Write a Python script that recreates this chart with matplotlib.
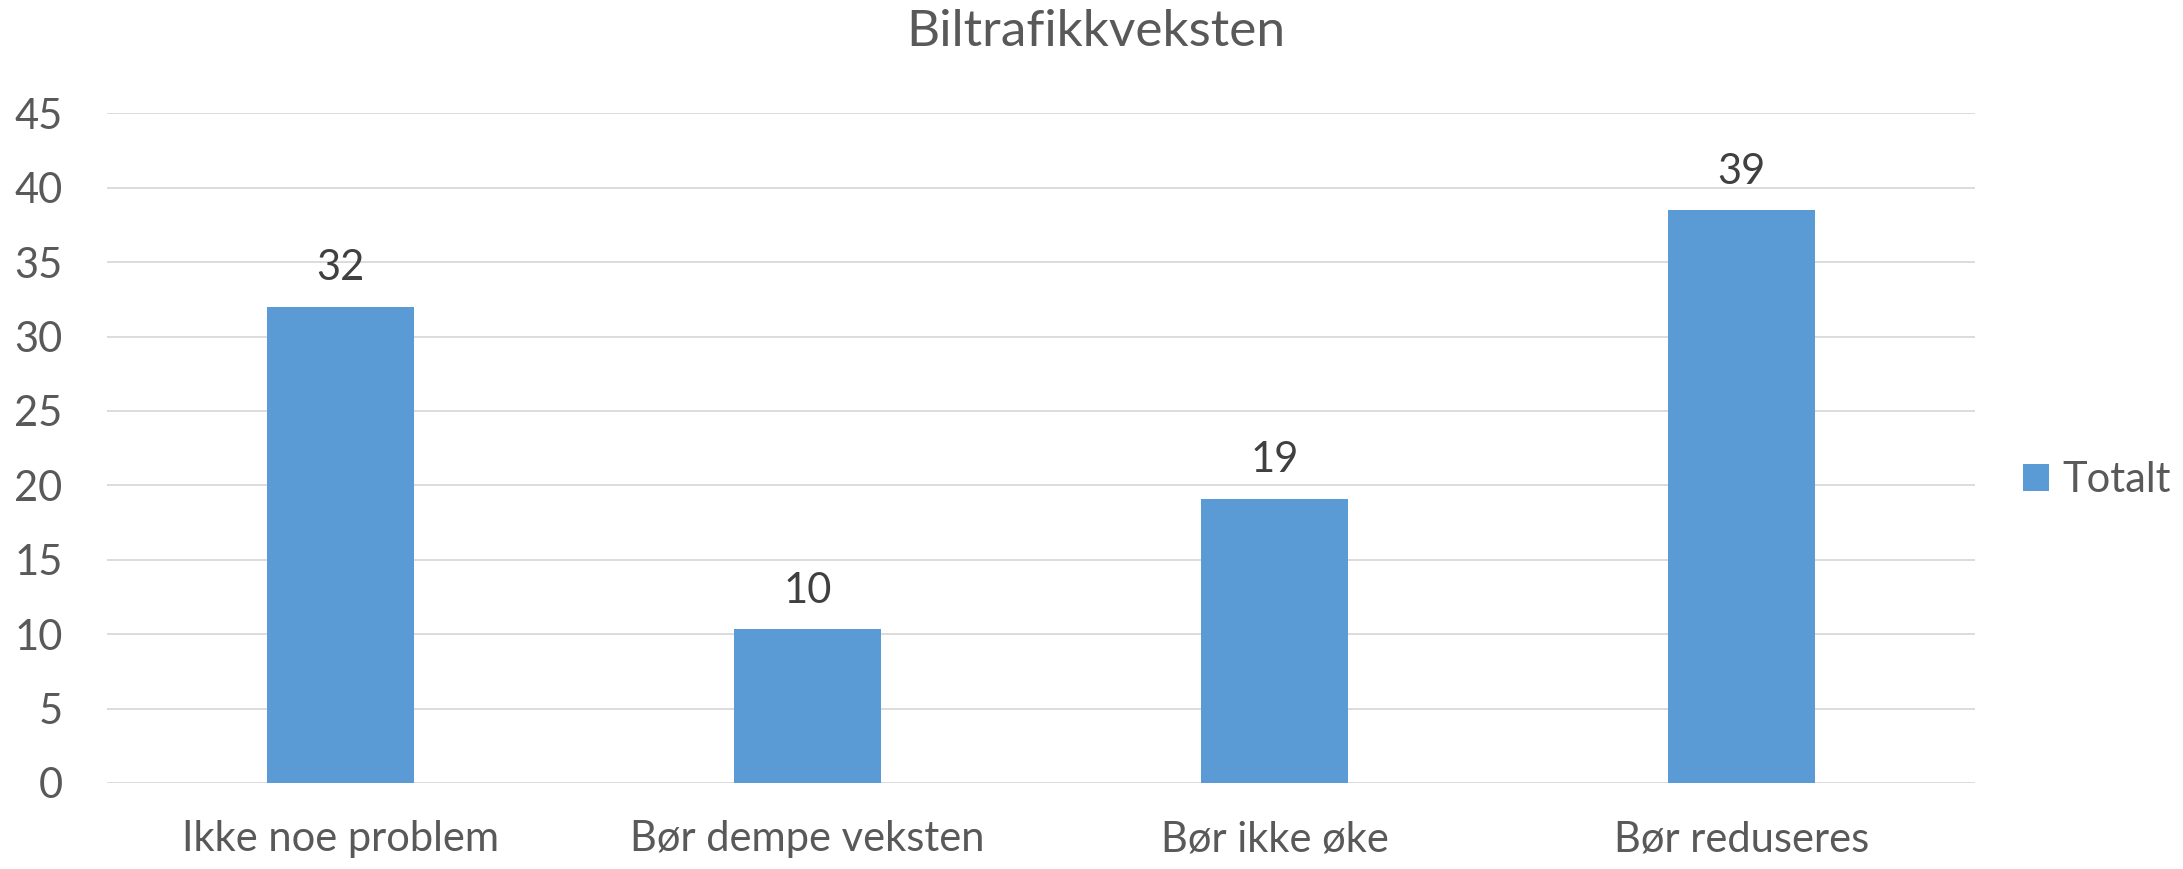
import matplotlib.pyplot as plt

categories = ["Ikke noe problem", "Bør dempe veksten", "Bør ikke øke", "Bør reduseres"]
values = [32.0, 10.35, 19.1, 38.5]
labels = ["32", "10", "19", "39"]
yticks = [0, 5, 10, 15, 20, 25, 30, 35, 40, 45]

plt.rcParams["font.family"] = ["Lato", "DejaVu Sans"]

fig = plt.figure(figsize=(21.83, 8.69), dpi=100)
ax = fig.add_axes([0.049, 0.099, 0.8557, 0.7706])

x = list(range(len(categories)))
bars = ax.bar(x, values, width=0.313, color="#5b9bd5", label="Totalt", zorder=3)

for xi, v, lab in zip(x, values, labels):
    ax.annotate(lab, (xi, v), xytext=(0, 14), textcoords="offset points",
                ha="center", va="bottom", fontsize=30, color="#404040")

ax.set_xlim(-0.5, len(categories) - 0.5)
ax.set_ylim(0, 45)
ax.set_yticks(yticks)
ax.set_xticks(x)
ax.set_xticklabels(categories)
ax.tick_params(axis="y", length=0, pad=32, labelsize=30, labelcolor="#595959")
ax.tick_params(axis="x", length=0, pad=27, labelsize=30, labelcolor="#595959")
ax.grid(axis="y", color="#d9d9d9", linewidth=1.3, zorder=0)
for s in ax.spines.values():
    s.set_visible(False)

fig.suptitle("Biltrafikkveksten", x=0.502, y=0.99, va="top", fontsize=37, color="#595959")

fig.legend(loc="center left", bbox_to_anchor=(0.9267, 0.4477), frameon=False,
           fontsize=30, handlelength=0.63, handleheight=0.63, handletextpad=0.32,
           borderpad=0, borderaxespad=0, labelcolor="#595959")

fig.savefig("out.png", dpi=100)
